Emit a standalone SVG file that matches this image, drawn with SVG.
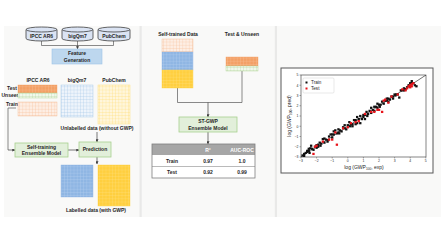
<svg xmlns="http://www.w3.org/2000/svg" xmlns:xlink="http://www.w3.org/1999/xlink" width="448" height="252" viewBox="0 0 448 252">
<style>
text{font-family:"Liberation Sans",Arial,sans-serif;fill:#262626}
.lb{font-size:5px;font-weight:bold;text-anchor:middle}
.cyl{fill:#dae3f3;stroke:#404040;stroke-width:0.8}
.gbox{fill:#e2efda;stroke:#a9d18e;stroke-width:0.8}
.bbox{fill:#bdd7ee;stroke:#9dc3e6;stroke-width:0.6}
.con{fill:none;stroke:#595959;stroke-width:0.7}
.arr{fill:none;stroke:#404040;stroke-width:0.7;marker-end:url(#ah)}
.tk{font-size:3.4px;fill:#404040}
.tbl{font-size:5px;font-weight:bold;text-anchor:middle}
</style>
<defs>
<marker id="ah" viewBox="0 0 6 6" refX="5.5" refY="3" markerWidth="3" markerHeight="3" markerUnits="userSpaceOnUse" orient="auto"><path d="M0,0L6,3L0,6z" fill="#404040"/></marker>
<pattern id="gBl" patternUnits="userSpaceOnUse" width="3.2" height="3.2"><rect width="3.2" height="3.2" fill="#eef4fb"/><path d="M0 0H3.2M0 0V3.2" stroke="#9dc3e6" stroke-width="0.5"/></pattern>
<pattern id="gB" patternUnits="userSpaceOnUse" width="3.2" height="3.2"><rect width="3.2" height="3.2" fill="#8fb6e3"/><path d="M0 0H3.2M0 0V3.2" stroke="#bcd4f0" stroke-width="0.5"/></pattern>
<pattern id="gYl" patternUnits="userSpaceOnUse" width="3.2" height="3.2"><rect width="3.2" height="3.2" fill="#fff6dc"/><path d="M0 0H3.2M0 0V3.2" stroke="#ffd966" stroke-width="0.5"/></pattern>
<pattern id="gY" patternUnits="userSpaceOnUse" width="3.2" height="3.2"><rect width="3.2" height="3.2" fill="#ffcf3f"/><path d="M0 0H3.2M0 0V3.2" stroke="#ffe285" stroke-width="0.5"/></pattern>
<pattern id="gOl" patternUnits="userSpaceOnUse" width="3.2" height="3.2"><rect width="3.2" height="3.2" fill="#fdeee4"/><path d="M0 0H3.2M0 0V3.2" stroke="#f6b98f" stroke-width="0.5"/></pattern>
<pattern id="gO" patternUnits="userSpaceOnUse" width="3.2" height="3.2"><rect width="3.2" height="3.2" fill="#f3a066"/><path d="M0 0H3.2M0 0V3.2" stroke="#f8c6a2" stroke-width="0.5"/></pattern>
<pattern id="gG" patternUnits="userSpaceOnUse" width="3.2" height="3.2"><rect width="3.2" height="3.2" fill="#f1f8ec"/><path d="M0 0H3.2M0 0V3.2" stroke="#a9d18e" stroke-width="0.5"/></pattern>
<rect id="p" x="-0.075" y="-0.11" width="0.15" height="0.22"/>
<clipPath id="ax"><rect x="301" y="75" width="125" height="82"/></clipPath>
</defs>

<!-- panels -->
<g id="panels">
<rect x="4" y="26" width="437" height="191" fill="#f9f9f8"/>
<rect x="139.5" y="26" width="2.2" height="191" fill="#e9e9e8"/>
<rect x="274.8" y="26" width="2.2" height="191" fill="#e9e9e8"/>
</g>

<!-- connectors -->
<g id="connectors">
<path class="con" d="M41.5 41V45.5H113.5V41M77.5 41V45.5"/>
<path class="arr" d="M77.5 45.5V49"/>
<path class="con" d="M16 108H8V150"/>
<path class="arr" d="M8 150H15"/>
<path class="arr" d="M68 150H79"/>
<path class="arr" d="M97 132V142"/>
<path class="arr" d="M97 157V164"/>
<path class="con" d="M177.5 88V102.5H242V71"/>
<path class="arr" d="M208 102.5V117"/>
<path class="arr" d="M208 132V144"/>
</g>

<!-- left panel -->
<g id="db-ipcc">
<path class="cyl" d="M26 29.5V38.5A15.5 2.5 0 0 0 57 38.5V29.5"/>
<ellipse class="cyl" cx="41.5" cy="29.5" rx="15.5" ry="2.5"/>
<text class="lb" x="41.5" y="37.5">IPCC AR6</text>
</g>
<g id="db-bigqm7">
<path class="cyl" d="M62 29.5V38.5A15.5 2.5 0 0 0 93 38.5V29.5"/>
<ellipse class="cyl" cx="77.5" cy="29.5" rx="15.5" ry="2.5"/>
<text class="lb" x="77.5" y="37.5">bigQm7</text>
</g>
<g id="db-pubchem">
<path class="cyl" d="M98 29.5V38.5A16 2.5 0 0 0 130 38.5V29.5"/>
<ellipse class="cyl" cx="114" cy="29.5" rx="16" ry="2.5"/>
<text class="lb" x="114" y="37.5">PubChem</text>
</g>
<g id="feature">
<rect class="bbox" x="52" y="49" width="50" height="15"/>
<text class="lb" x="77" y="55.3">Feature</text>
<text class="lb" x="77" y="61.5">Generation</text>
</g>

<g id="grid-ipcc">
<text class="lb" x="38" y="81.5">IPCC AR6</text>
<text class="lb" x="12" y="89.5">Test</text>
<text class="lb" x="10.5" y="97">Unseen</text>
<text class="lb" x="12" y="106">Train</text>
<rect x="18" y="85" width="39" height="8" fill="url(#gO)" stroke="#f3a066" stroke-width="0.4"/>
<rect x="18" y="93" width="39" height="5" fill="url(#gG)" stroke="#a9d18e" stroke-width="0.4"/>
<rect x="18" y="102" width="39" height="14" fill="url(#gOl)" stroke="#f6b98f" stroke-width="0.4"/>
</g>
<g id="grid-bigqm7">
<text class="lb" x="77" y="81.5">bigQm7</text>
<rect x="61" y="85" width="32" height="32" fill="url(#gBl)" stroke="#9dc3e6" stroke-width="0.4"/>
</g>
<g id="grid-pubchem">
<text class="lb" x="114" y="81.5">PubChem</text>
<rect x="98" y="85" width="32" height="39" fill="url(#gYl)" stroke="#ffd966" stroke-width="0.4"/>
</g>
<text class="lb" x="97" y="130">Unlabelled data (without GWP)</text>

<g id="self-training">
<rect class="gbox" x="15" y="143" width="53" height="14"/>
<text class="lb" x="41.5" y="149">Self-training</text>
<text class="lb" x="41.5" y="155">Ensemble Model</text>
</g>
<g id="prediction">
<rect class="gbox" x="79" y="142" width="32" height="15"/>
<text class="lb" x="95" y="151.3">Prediction</text>
</g>
<g id="labelled">
<rect x="61" y="165" width="32" height="32" fill="url(#gB)" stroke="#8fb6e3" stroke-width="0.4"/>
<rect x="98" y="165" width="32" height="41" fill="url(#gY)" stroke="#ffcf3f" stroke-width="0.4"/>
<text class="lb" x="96" y="212">Labelled data (with GWP)</text>
</g>

<!-- middle panel -->
<g id="self-trained">
<text class="lb" x="178" y="36">Self-trained Data</text>
<rect x="162" y="39" width="31" height="13" fill="url(#gOl)" stroke="#f6b98f" stroke-width="0.4"/>
<rect x="162" y="52" width="31" height="18" fill="url(#gB)" stroke="#8fb6e3" stroke-width="0.4"/>
<rect x="162" y="70" width="31" height="18" fill="url(#gY)" stroke="#ffcf3f" stroke-width="0.4"/>
</g>
<g id="test-unseen">
<text class="lb" x="242" y="36">Test &amp; Unseen</text>
<rect x="226" y="57" width="32" height="9" fill="url(#gO)" stroke="#f3a066" stroke-width="0.4"/>
<rect x="226" y="66" width="32" height="5" fill="url(#gG)" stroke="#a9d18e" stroke-width="0.4"/>
</g>
<g id="st-gwp">
<rect class="gbox" x="179" y="117" width="58" height="15"/>
<text class="lb" x="208" y="123.3">ST-GWP</text>
<text class="lb" x="208" y="129.5">Ensemble Model</text>
</g>
<g id="table">
<rect x="152" y="144" width="103" height="11" fill="#a6a6a6"/>
<rect x="152" y="155" width="103" height="23" fill="#ffffff"/>
<path d="M152 166.5H255" stroke="#8c8c8c" stroke-width="0.6"/>
<rect x="152" y="144" width="103" height="34" fill="none" stroke="#7f7f7f" stroke-width="0.8"/>
<text class="tbl" x="208" y="151.5" style="fill:#ffffff">R²</text>
<text class="tbl" x="242" y="151.5" style="fill:#ffffff">AUC-ROC</text>
<text class="tbl" x="172" y="162.7">Train</text>
<text class="tbl" x="208" y="162.7">0.97</text>
<text class="tbl" x="242" y="162.7">1.0</text>
<text class="tbl" x="172" y="174">Test</text>
<text class="tbl" x="208" y="174">0.92</text>
<text class="tbl" x="242" y="174">0.99</text>
</g>

<!-- right panel: parity plot -->
<g id="plot">
<rect x="281" y="68" width="152" height="105" fill="#ffffff" stroke="#595959" stroke-width="1"/>
<rect x="301" y="75" width="125" height="82" fill="#ffffff" stroke="#333333" stroke-width="0.6"/>
<path d="M301 157V158.5M316.6 157V158.5M332.2 157V158.5M347.8 157V158.5M363.4 157V158.5M379 157V158.5M394.6 157V158.5M410.2 157V158.5M425.8 157V158.5M301 157H299.5M301 146.75H299.5M301 136.5H299.5M301 126.25H299.5M301 116H299.5M301 105.75H299.5M301 95.5H299.5M301 85.25H299.5M301 75H299.5" stroke="#333" stroke-width="0.4"/>
<g class="tk" text-anchor="middle">
<text x="301" y="162">−3</text><text x="316.6" y="162">−2</text><text x="332.2" y="162">−1</text><text x="347.8" y="162">0</text><text x="363.4" y="162">1</text><text x="379" y="162">2</text><text x="394.6" y="162">3</text><text x="410.2" y="162">4</text><text x="425.8" y="162">5</text>
</g>
<g class="tk" text-anchor="end">
<text x="298.5" y="158.2">−3</text><text x="298.5" y="148">−2</text><text x="298.5" y="137.7">−1</text><text x="298.5" y="127.5">0</text><text x="298.5" y="117.2">1</text><text x="298.5" y="107">2</text><text x="298.5" y="96.7">3</text><text x="298.5" y="86.5">4</text><text x="298.5" y="76.2">5</text>
</g>
<text x="364" y="168.5" style="font-size:5px;text-anchor:middle">log (GWP<tspan style="font-size:3.2px" dy="1">100</tspan><tspan dy="-1">, exp)</tspan></text>
<text transform="translate(290.5 116) rotate(-90)" style="font-size:5px;text-anchor:middle">log (GWP<tspan style="font-size:3.2px" dy="1">100</tspan><tspan dy="-1">, pred)</tspan></text>
<g clip-path="url(#ax)">
<path d="M301 157L426 75" stroke="#111" stroke-width="0.6"/>
<g transform="translate(301 157) scale(15.6 -10.25) translate(3 3)">
<g fill="#111">
<use href="#p" x="-2.9" y="-2.85"/><use href="#p" x="-2.8" y="-2.9"/><use href="#p" x="-2.7" y="-2.6"/><use href="#p" x="-2.6" y="-2.4"/><use href="#p" x="-2.5" y="-2.2"/><use href="#p" x="-2.5" y="-2.4"/><use href="#p" x="-2.4" y="-2.15"/><use href="#p" x="-2.35" y="-1.9"/><use href="#p" x="-2.2" y="-2.3"/><use href="#p" x="-2.1" y="-2.0"/><use href="#p" x="-2.0" y="-1.85"/><use href="#p" x="-1.9" y="-1.8"/><use href="#p" x="-1.8" y="-1.6"/><use href="#p" x="-1.7" y="-1.7"/><use href="#p" x="-1.6" y="-1.25"/><use href="#p" x="-1.5" y="-1.2"/><use href="#p" x="-1.4" y="-1.3"/><use href="#p" x="-1.3" y="-1.5"/><use href="#p" x="-1.2" y="-1.0"/><use href="#p" x="-1.1" y="-0.8"/><use href="#p" x="-1.0" y="-0.8"/><use href="#p" x="-0.9" y="-0.8"/><use href="#p" x="-0.8" y="-0.4"/><use href="#p" x="-0.7" y="-0.7"/><use href="#p" x="-0.6" y="-0.3"/><use href="#p" x="-0.5" y="-0.4"/><use href="#p" x="-0.4" y="-0.5"/><use href="#p" x="-0.3" y="-0.1"/><use href="#p" x="-0.2" y="-0.2"/><use href="#p" x="-0.1" y="-0.3"/><use href="#p" x="0.0" y="0.1"/><use href="#p" x="0.1" y="0.4"/><use href="#p" x="0.2" y="0.2"/><use href="#p" x="0.3" y="0.2"/><use href="#p" x="0.4" y="0.6"/><use href="#p" x="0.5" y="0.6"/><use href="#p" x="0.6" y="0.3"/><use href="#p" x="0.7" y="0.7"/><use href="#p" x="0.8" y="1.0"/><use href="#p" x="0.9" y="0.7"/><use href="#p" x="1.0" y="1.1"/><use href="#p" x="1.1" y="1.1"/><use href="#p" x="1.2" y="1.4"/><use href="#p" x="1.3" y="1.2"/><use href="#p" x="1.4" y="1.5"/><use href="#p" x="1.5" y="1.8"/><use href="#p" x="1.6" y="1.6"/><use href="#p" x="1.7" y="1.9"/><use href="#p" x="1.8" y="1.9"/><use href="#p" x="1.9" y="1.8"/><use href="#p" x="2.0" y="2.1"/><use href="#p" x="2.1" y="2.1"/><use href="#p" x="2.2" y="2.4"/><use href="#p" x="2.3" y="2.2"/><use href="#p" x="2.4" y="2.5"/><use href="#p" x="2.5" y="2.5"/><use href="#p" x="2.6" y="2.7"/><use href="#p" x="2.7" y="2.6"/><use href="#p" x="2.8" y="2.9"/><use href="#p" x="2.9" y="2.9"/><use href="#p" x="3.0" y="3.1"/><use href="#p" x="3.1" y="3.1"/><use href="#p" x="3.2" y="3.1"/><use href="#p" x="3.3" y="2.8"/><use href="#p" x="3.4" y="3.5"/><use href="#p" x="3.5" y="3.5"/><use href="#p" x="3.6" y="3.7"/><use href="#p" x="3.7" y="3.6"/><use href="#p" x="3.8" y="3.8"/><use href="#p" x="3.9" y="4.0"/><use href="#p" x="4.0" y="4.2"/><use href="#p" x="4.1" y="4.2"/><use href="#p" x="4.2" y="4.2"/><use href="#p" x="4.3" y="4.0"/><use href="#p" x="4.4" y="3.9"/><use href="#p" x="4.1" y="4.4"/><use href="#p" x="-2.0" y="-2.1"/><use href="#p" x="-1.0" y="-1.1"/><use href="#p" x="0.5" y="0.2"/><use href="#p" x="1.5" y="1.3"/><use href="#p" x="2.5" y="2.7"/><use href="#p" x="0.8" y="0.3"/><use href="#p" x="1.1" y="0.7"/><use href="#p" x="-0.2" y="0.1"/><use href="#p" x="-2.6" y="-2.5"/><use href="#p" x="-2.3" y="-2.2"/><use href="#p" x="-1.9" y="-2.0"/><use href="#p" x="-0.6" y="-0.6"/><use href="#p" x="0.3" y="0.0"/><use href="#p" x="1.0" y="0.9"/><use href="#p" x="1.9" y="2.2"/><use href="#p" x="2.9" y="2.7"/><use href="#p" x="3.6" y="3.5"/><use href="#p" x="-1.5" y="-1.6"/><use href="#p" x="-0.9" y="-0.5"/><use href="#p" x="0.6" y="0.9"/><use href="#p" x="1.7" y="1.5"/><use href="#p" x="2.6" y="2.4"/><use href="#p" x="-2.8" y="-2.7"/><use href="#p" x="-2.45" y="-2.6"/><use href="#p" x="-1.75" y="-1.9"/><use href="#p" x="-1.25" y="-1.35"/><use href="#p" x="-0.55" y="-0.7"/><use href="#p" x="0.15" y="0.0"/><use href="#p" x="1.25" y="1.0"/><use href="#p" x="2.05" y="1.9"/><use href="#p" x="3.05" y="3.0"/><use href="#p" x="3.95" y="3.9"/>
</g>
<g fill="#e8141b">
<use href="#p" x="-2.2" y="-2.7"/><use href="#p" x="-2.1" y="-2.0"/><use href="#p" x="-1.6" y="-1.5"/><use href="#p" x="-0.7" y="-1.8"/><use href="#p" x="-0.8" y="-0.6"/><use href="#p" x="-0.3" y="-0.2"/><use href="#p" x="0.2" y="0.3"/><use href="#p" x="0.7" y="0.5"/><use href="#p" x="1.1" y="1.2"/><use href="#p" x="1.7" y="1.4"/><use href="#p" x="2.0" y="1.6"/><use href="#p" x="2.2" y="1.4"/><use href="#p" x="2.3" y="2.5"/><use href="#p" x="2.6" y="2.3"/><use href="#p" x="3.5" y="3.6"/><use href="#p" x="3.7" y="3.5"/><use href="#p" x="3.9" y="3.9"/><use href="#p" x="4.0" y="4.0"/><use href="#p" x="4.1" y="3.9"/><use href="#p" x="4.2" y="4.2"/><use href="#p" x="3.8" y="3.7"/><use href="#p" x="4.0" y="3.8"/><use href="#p" x="-1.2" y="-1.3"/><use href="#p" x="0.0" y="-0.1"/><use href="#p" x="1.5" y="1.4"/><use href="#p" x="2.8" y="2.9"/><use href="#p" x="3.2" y="3.1"/><use href="#p" x="-2.0" y="-1.9"/><use href="#p" x="0.5" y="0.4"/><use href="#p" x="2.4" y="2.6"/><use href="#p" x="-1.0" y="-1.3"/><use href="#p" x="1.9" y="1.6"/><use href="#p" x="4.1" y="4.1"/>
</g>
</g>
</g>
<rect x="303" y="78" width="31" height="15" fill="#ffffff" stroke="#d0d0d0" stroke-width="0.5" rx="1"/>
<rect x="305.5" y="81.5" width="2" height="2" fill="#111"/>
<text x="311" y="84.2" style="font-size:4.6px">Train</text>
<rect x="305.5" y="87.5" width="2" height="2" fill="#e8141b"/>
<text x="311" y="90.2" style="font-size:4.6px">Test</text>
</g>
</svg>
